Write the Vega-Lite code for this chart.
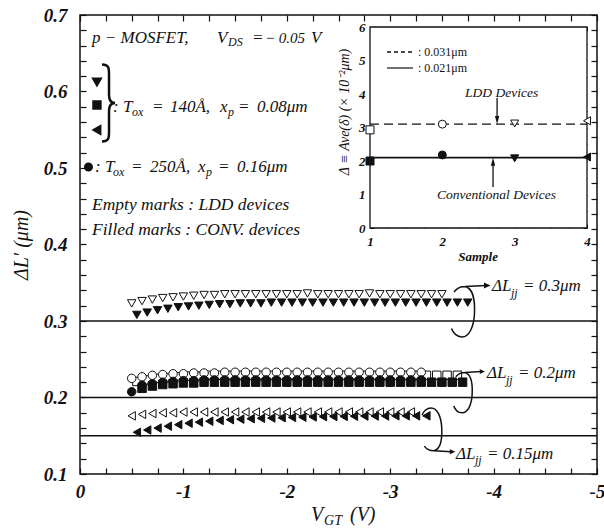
{
  "$schema": "https://vega.github.io/schema/vega-lite/v6.json",
  "width": 517,
  "height": 459,
  "autosize": "none",
  "padding": {"left": 80, "top": 15, "right": 7, "bottom": 57},
  "background": "white",
  "config": {
    "view": {"stroke": "#111", "strokeWidth": 1.5},
    "font": "Liberation Serif",
    "text": {"font": "Liberation Serif", "color": "#111"}
  },
  "data": {"values": [{}]},
  "datasets": {
    "jj": [{"dljj": 0.3}, {"dljj": 0.2}, {"dljj": 0.15}],
    "inset": [
      {"sample": 1, "avg": 2.93, "marker": "square", "device": "LDD"},
      {"sample": 2, "avg": 3.1, "marker": "circle", "device": "LDD"},
      {"sample": 3, "avg": 3.12, "marker": "down", "device": "LDD"},
      {"sample": 4, "avg": 3.2, "marker": "left", "device": "LDD"},
      {"sample": 1, "avg": 2.0, "marker": "square", "device": "CONV"},
      {"sample": 2, "avg": 2.18, "marker": "circle", "device": "CONV"},
      {"sample": 3, "avg": 2.08, "marker": "down", "device": "CONV"},
      {"sample": 4, "avg": 2.12, "marker": "left", "device": "CONV"}
    ],
    "main": [
      {"vgt": -0.5, "dl": 0.323, "marker": "down", "device": "LDD"},
      {"vgt": -0.6, "dl": 0.326, "marker": "down", "device": "LDD"},
      {"vgt": -0.7, "dl": 0.328, "marker": "down", "device": "LDD"},
      {"vgt": -0.8, "dl": 0.330, "marker": "down", "device": "LDD"},
      {"vgt": -0.9, "dl": 0.331, "marker": "down", "device": "LDD"},
      {"vgt": -1.0, "dl": 0.332, "marker": "down", "device": "LDD"},
      {"vgt": -1.1, "dl": 0.333, "marker": "down", "device": "LDD"},
      {"vgt": -1.2, "dl": 0.334, "marker": "down", "device": "LDD"},
      {"vgt": -1.3, "dl": 0.334, "marker": "down", "device": "LDD"},
      {"vgt": -1.4, "dl": 0.335, "marker": "down", "device": "LDD"},
      {"vgt": -1.5, "dl": 0.335, "marker": "down", "device": "LDD"},
      {"vgt": -1.6, "dl": 0.335, "marker": "down", "device": "LDD"},
      {"vgt": -1.7, "dl": 0.335, "marker": "down", "device": "LDD"},
      {"vgt": -1.8, "dl": 0.335, "marker": "down", "device": "LDD"},
      {"vgt": -1.9, "dl": 0.335, "marker": "down", "device": "LDD"},
      {"vgt": -2.0, "dl": 0.335, "marker": "down", "device": "LDD"},
      {"vgt": -2.1, "dl": 0.335, "marker": "down", "device": "LDD"},
      {"vgt": -2.2, "dl": 0.336, "marker": "down", "device": "LDD"},
      {"vgt": -2.3, "dl": 0.335, "marker": "down", "device": "LDD"},
      {"vgt": -2.4, "dl": 0.335, "marker": "down", "device": "LDD"},
      {"vgt": -2.5, "dl": 0.335, "marker": "down", "device": "LDD"},
      {"vgt": -2.6, "dl": 0.335, "marker": "down", "device": "LDD"},
      {"vgt": -2.7, "dl": 0.335, "marker": "down", "device": "LDD"},
      {"vgt": -2.8, "dl": 0.336, "marker": "down", "device": "LDD"},
      {"vgt": -2.9, "dl": 0.335, "marker": "down", "device": "LDD"},
      {"vgt": -3.0, "dl": 0.335, "marker": "down", "device": "LDD"},
      {"vgt": -3.1, "dl": 0.335, "marker": "down", "device": "LDD"},
      {"vgt": -3.2, "dl": 0.335, "marker": "down", "device": "LDD"},
      {"vgt": -3.3, "dl": 0.335, "marker": "down", "device": "LDD"},
      {"vgt": -3.4, "dl": 0.335, "marker": "down", "device": "LDD"},
      {"vgt": -3.5, "dl": 0.335, "marker": "down", "device": "LDD"},

      {"vgt": -0.55, "dl": 0.308, "marker": "down", "device": "CONV"},
      {"vgt": -0.65, "dl": 0.311, "marker": "down", "device": "CONV"},
      {"vgt": -0.75, "dl": 0.314, "marker": "down", "device": "CONV"},
      {"vgt": -0.85, "dl": 0.316, "marker": "down", "device": "CONV"},
      {"vgt": -0.95, "dl": 0.318, "marker": "down", "device": "CONV"},
      {"vgt": -1.05, "dl": 0.319, "marker": "down", "device": "CONV"},
      {"vgt": -1.15, "dl": 0.320, "marker": "down", "device": "CONV"},
      {"vgt": -1.25, "dl": 0.321, "marker": "down", "device": "CONV"},
      {"vgt": -1.35, "dl": 0.322, "marker": "down", "device": "CONV"},
      {"vgt": -1.45, "dl": 0.322, "marker": "down", "device": "CONV"},
      {"vgt": -1.55, "dl": 0.323, "marker": "down", "device": "CONV"},
      {"vgt": -1.65, "dl": 0.323, "marker": "down", "device": "CONV"},
      {"vgt": -1.75, "dl": 0.323, "marker": "down", "device": "CONV"},
      {"vgt": -1.85, "dl": 0.324, "marker": "down", "device": "CONV"},
      {"vgt": -1.95, "dl": 0.324, "marker": "down", "device": "CONV"},
      {"vgt": -2.05, "dl": 0.324, "marker": "down", "device": "CONV"},
      {"vgt": -2.15, "dl": 0.324, "marker": "down", "device": "CONV"},
      {"vgt": -2.25, "dl": 0.324, "marker": "down", "device": "CONV"},
      {"vgt": -2.35, "dl": 0.324, "marker": "down", "device": "CONV"},
      {"vgt": -2.45, "dl": 0.324, "marker": "down", "device": "CONV"},
      {"vgt": -2.55, "dl": 0.324, "marker": "down", "device": "CONV"},
      {"vgt": -2.65, "dl": 0.324, "marker": "down", "device": "CONV"},
      {"vgt": -2.75, "dl": 0.324, "marker": "down", "device": "CONV"},
      {"vgt": -2.85, "dl": 0.324, "marker": "down", "device": "CONV"},
      {"vgt": -2.95, "dl": 0.324, "marker": "down", "device": "CONV"},
      {"vgt": -3.05, "dl": 0.324, "marker": "down", "device": "CONV"},
      {"vgt": -3.15, "dl": 0.324, "marker": "down", "device": "CONV"},
      {"vgt": -3.25, "dl": 0.324, "marker": "down", "device": "CONV"},
      {"vgt": -3.35, "dl": 0.324, "marker": "down", "device": "CONV"},
      {"vgt": -3.45, "dl": 0.324, "marker": "down", "device": "CONV"},
      {"vgt": -3.55, "dl": 0.324, "marker": "down", "device": "CONV"},
      {"vgt": -3.65, "dl": 0.324, "marker": "down", "device": "CONV"},
      {"vgt": -3.75, "dl": 0.324, "marker": "down", "device": "CONV"},

      {"vgt": -0.55, "dl": 0.221, "marker": "square", "device": "LDD"},
      {"vgt": -0.65, "dl": 0.223, "marker": "square", "device": "LDD"},
      {"vgt": -0.75, "dl": 0.225, "marker": "square", "device": "LDD"},
      {"vgt": -0.85, "dl": 0.226, "marker": "square", "device": "LDD"},
      {"vgt": -0.95, "dl": 0.227, "marker": "square", "device": "LDD"},
      {"vgt": -1.05, "dl": 0.228, "marker": "square", "device": "LDD"},
      {"vgt": -1.15, "dl": 0.228, "marker": "square", "device": "LDD"},
      {"vgt": -1.25, "dl": 0.229, "marker": "square", "device": "LDD"},
      {"vgt": -1.35, "dl": 0.229, "marker": "square", "device": "LDD"},
      {"vgt": -1.45, "dl": 0.229, "marker": "square", "device": "LDD"},
      {"vgt": -1.55, "dl": 0.229, "marker": "square", "device": "LDD"},
      {"vgt": -1.65, "dl": 0.229, "marker": "square", "device": "LDD"},
      {"vgt": -1.75, "dl": 0.229, "marker": "square", "device": "LDD"},
      {"vgt": -1.85, "dl": 0.229, "marker": "square", "device": "LDD"},
      {"vgt": -1.95, "dl": 0.229, "marker": "square", "device": "LDD"},
      {"vgt": -2.05, "dl": 0.229, "marker": "square", "device": "LDD"},
      {"vgt": -2.15, "dl": 0.229, "marker": "square", "device": "LDD"},
      {"vgt": -2.25, "dl": 0.229, "marker": "square", "device": "LDD"},
      {"vgt": -2.35, "dl": 0.229, "marker": "square", "device": "LDD"},
      {"vgt": -2.45, "dl": 0.229, "marker": "square", "device": "LDD"},
      {"vgt": -2.55, "dl": 0.229, "marker": "square", "device": "LDD"},
      {"vgt": -2.65, "dl": 0.229, "marker": "square", "device": "LDD"},
      {"vgt": -2.75, "dl": 0.229, "marker": "square", "device": "LDD"},
      {"vgt": -2.85, "dl": 0.229, "marker": "square", "device": "LDD"},
      {"vgt": -2.95, "dl": 0.229, "marker": "square", "device": "LDD"},
      {"vgt": -3.05, "dl": 0.229, "marker": "square", "device": "LDD"},
      {"vgt": -3.15, "dl": 0.229, "marker": "square", "device": "LDD"},
      {"vgt": -3.25, "dl": 0.229, "marker": "square", "device": "LDD"},
      {"vgt": -3.35, "dl": 0.229, "marker": "square", "device": "LDD"},
      {"vgt": -3.45, "dl": 0.229, "marker": "square", "device": "LDD"},
      {"vgt": -3.55, "dl": 0.229, "marker": "square", "device": "LDD"},
      {"vgt": -3.65, "dl": 0.229, "marker": "square", "device": "LDD"},

      {"vgt": -0.5, "dl": 0.225, "marker": "circle", "device": "LDD"},
      {"vgt": -0.6, "dl": 0.227, "marker": "circle", "device": "LDD"},
      {"vgt": -0.7, "dl": 0.229, "marker": "circle", "device": "LDD"},
      {"vgt": -0.8, "dl": 0.230, "marker": "circle", "device": "LDD"},
      {"vgt": -0.9, "dl": 0.231, "marker": "circle", "device": "LDD"},
      {"vgt": -1.0, "dl": 0.231, "marker": "circle", "device": "LDD"},
      {"vgt": -1.1, "dl": 0.232, "marker": "circle", "device": "LDD"},
      {"vgt": -1.2, "dl": 0.232, "marker": "circle", "device": "LDD"},
      {"vgt": -1.3, "dl": 0.232, "marker": "circle", "device": "LDD"},
      {"vgt": -1.4, "dl": 0.233, "marker": "circle", "device": "LDD"},
      {"vgt": -1.5, "dl": 0.233, "marker": "circle", "device": "LDD"},
      {"vgt": -1.6, "dl": 0.233, "marker": "circle", "device": "LDD"},
      {"vgt": -1.7, "dl": 0.233, "marker": "circle", "device": "LDD"},
      {"vgt": -1.8, "dl": 0.233, "marker": "circle", "device": "LDD"},
      {"vgt": -1.9, "dl": 0.233, "marker": "circle", "device": "LDD"},
      {"vgt": -2.0, "dl": 0.233, "marker": "circle", "device": "LDD"},
      {"vgt": -2.1, "dl": 0.233, "marker": "circle", "device": "LDD"},
      {"vgt": -2.2, "dl": 0.233, "marker": "circle", "device": "LDD"},
      {"vgt": -2.3, "dl": 0.233, "marker": "circle", "device": "LDD"},
      {"vgt": -2.4, "dl": 0.233, "marker": "circle", "device": "LDD"},
      {"vgt": -2.5, "dl": 0.233, "marker": "circle", "device": "LDD"},
      {"vgt": -2.6, "dl": 0.233, "marker": "circle", "device": "LDD"},
      {"vgt": -2.7, "dl": 0.233, "marker": "circle", "device": "LDD"},
      {"vgt": -2.8, "dl": 0.233, "marker": "circle", "device": "LDD"},
      {"vgt": -2.9, "dl": 0.233, "marker": "circle", "device": "LDD"},
      {"vgt": -3.0, "dl": 0.233, "marker": "circle", "device": "LDD"},
      {"vgt": -3.1, "dl": 0.233, "marker": "circle", "device": "LDD"},
      {"vgt": -3.2, "dl": 0.233, "marker": "circle", "device": "LDD"},
      {"vgt": -3.3, "dl": 0.233, "marker": "circle", "device": "LDD"},

      {"vgt": -0.6, "dl": 0.212, "marker": "square", "device": "CONV"},
      {"vgt": -0.7, "dl": 0.215, "marker": "square", "device": "CONV"},
      {"vgt": -0.8, "dl": 0.217, "marker": "square", "device": "CONV"},
      {"vgt": -0.9, "dl": 0.218, "marker": "square", "device": "CONV"},
      {"vgt": -1.0, "dl": 0.219, "marker": "square", "device": "CONV"},
      {"vgt": -1.1, "dl": 0.219, "marker": "square", "device": "CONV"},
      {"vgt": -1.2, "dl": 0.220, "marker": "square", "device": "CONV"},
      {"vgt": -1.3, "dl": 0.220, "marker": "square", "device": "CONV"},
      {"vgt": -1.4, "dl": 0.220, "marker": "square", "device": "CONV"},
      {"vgt": -1.5, "dl": 0.220, "marker": "square", "device": "CONV"},
      {"vgt": -1.6, "dl": 0.220, "marker": "square", "device": "CONV"},
      {"vgt": -1.7, "dl": 0.220, "marker": "square", "device": "CONV"},
      {"vgt": -1.8, "dl": 0.220, "marker": "square", "device": "CONV"},
      {"vgt": -1.9, "dl": 0.220, "marker": "square", "device": "CONV"},
      {"vgt": -2.0, "dl": 0.220, "marker": "square", "device": "CONV"},
      {"vgt": -2.1, "dl": 0.220, "marker": "square", "device": "CONV"},
      {"vgt": -2.2, "dl": 0.220, "marker": "square", "device": "CONV"},
      {"vgt": -2.3, "dl": 0.220, "marker": "square", "device": "CONV"},
      {"vgt": -2.4, "dl": 0.220, "marker": "square", "device": "CONV"},
      {"vgt": -2.5, "dl": 0.220, "marker": "square", "device": "CONV"},
      {"vgt": -2.6, "dl": 0.220, "marker": "square", "device": "CONV"},
      {"vgt": -2.7, "dl": 0.220, "marker": "square", "device": "CONV"},
      {"vgt": -2.8, "dl": 0.220, "marker": "square", "device": "CONV"},
      {"vgt": -2.9, "dl": 0.220, "marker": "square", "device": "CONV"},
      {"vgt": -3.0, "dl": 0.220, "marker": "square", "device": "CONV"},
      {"vgt": -3.1, "dl": 0.220, "marker": "square", "device": "CONV"},
      {"vgt": -3.2, "dl": 0.220, "marker": "square", "device": "CONV"},
      {"vgt": -3.3, "dl": 0.220, "marker": "square", "device": "CONV"},
      {"vgt": -3.4, "dl": 0.220, "marker": "square", "device": "CONV"},
      {"vgt": -3.5, "dl": 0.220, "marker": "square", "device": "CONV"},
      {"vgt": -3.6, "dl": 0.220, "marker": "square", "device": "CONV"},
      {"vgt": -3.7, "dl": 0.220, "marker": "square", "device": "CONV"},

      {"vgt": -0.5, "dl": 0.2075, "marker": "circle", "device": "CONV"},
      {"vgt": -0.6, "dl": 0.216, "marker": "circle", "device": "CONV"},
      {"vgt": -0.7, "dl": 0.218, "marker": "circle", "device": "CONV"},
      {"vgt": -0.8, "dl": 0.220, "marker": "circle", "device": "CONV"},
      {"vgt": -0.9, "dl": 0.221, "marker": "circle", "device": "CONV"},
      {"vgt": -1.0, "dl": 0.222, "marker": "circle", "device": "CONV"},
      {"vgt": -1.1, "dl": 0.222, "marker": "circle", "device": "CONV"},
      {"vgt": -1.2, "dl": 0.223, "marker": "circle", "device": "CONV"},
      {"vgt": -1.3, "dl": 0.223, "marker": "circle", "device": "CONV"},
      {"vgt": -1.4, "dl": 0.223, "marker": "circle", "device": "CONV"},
      {"vgt": -1.5, "dl": 0.223, "marker": "circle", "device": "CONV"},
      {"vgt": -1.6, "dl": 0.223, "marker": "circle", "device": "CONV"},
      {"vgt": -1.7, "dl": 0.223, "marker": "circle", "device": "CONV"},
      {"vgt": -1.8, "dl": 0.223, "marker": "circle", "device": "CONV"},
      {"vgt": -1.9, "dl": 0.223, "marker": "circle", "device": "CONV"},
      {"vgt": -2.0, "dl": 0.223, "marker": "circle", "device": "CONV"},
      {"vgt": -2.1, "dl": 0.223, "marker": "circle", "device": "CONV"},
      {"vgt": -2.2, "dl": 0.223, "marker": "circle", "device": "CONV"},
      {"vgt": -2.3, "dl": 0.223, "marker": "circle", "device": "CONV"},
      {"vgt": -2.4, "dl": 0.223, "marker": "circle", "device": "CONV"},
      {"vgt": -2.5, "dl": 0.223, "marker": "circle", "device": "CONV"},
      {"vgt": -2.6, "dl": 0.223, "marker": "circle", "device": "CONV"},
      {"vgt": -2.7, "dl": 0.223, "marker": "circle", "device": "CONV"},
      {"vgt": -2.8, "dl": 0.223, "marker": "circle", "device": "CONV"},
      {"vgt": -2.9, "dl": 0.223, "marker": "circle", "device": "CONV"},
      {"vgt": -3.0, "dl": 0.223, "marker": "circle", "device": "CONV"},
      {"vgt": -3.1, "dl": 0.223, "marker": "circle", "device": "CONV"},
      {"vgt": -3.2, "dl": 0.223, "marker": "circle", "device": "CONV"},
      {"vgt": -3.3, "dl": 0.223, "marker": "circle", "device": "CONV"},

      {"vgt": -0.5, "dl": 0.176, "marker": "left", "device": "LDD"},
      {"vgt": -0.6, "dl": 0.178, "marker": "left", "device": "LDD"},
      {"vgt": -0.7, "dl": 0.179, "marker": "left", "device": "LDD"},
      {"vgt": -0.8, "dl": 0.180, "marker": "left", "device": "LDD"},
      {"vgt": -0.9, "dl": 0.180, "marker": "left", "device": "LDD"},
      {"vgt": -1.0, "dl": 0.181, "marker": "left", "device": "LDD"},
      {"vgt": -1.1, "dl": 0.181, "marker": "left", "device": "LDD"},
      {"vgt": -1.2, "dl": 0.181, "marker": "left", "device": "LDD"},
      {"vgt": -1.3, "dl": 0.181, "marker": "left", "device": "LDD"},
      {"vgt": -1.4, "dl": 0.181, "marker": "left", "device": "LDD"},
      {"vgt": -1.5, "dl": 0.181, "marker": "left", "device": "LDD"},
      {"vgt": -1.6, "dl": 0.181, "marker": "left", "device": "LDD"},
      {"vgt": -1.7, "dl": 0.181, "marker": "left", "device": "LDD"},
      {"vgt": -1.8, "dl": 0.181, "marker": "left", "device": "LDD"},
      {"vgt": -1.9, "dl": 0.181, "marker": "left", "device": "LDD"},
      {"vgt": -2.0, "dl": 0.181, "marker": "left", "device": "LDD"},
      {"vgt": -2.1, "dl": 0.181, "marker": "left", "device": "LDD"},
      {"vgt": -2.2, "dl": 0.181, "marker": "left", "device": "LDD"},
      {"vgt": -2.3, "dl": 0.181, "marker": "left", "device": "LDD"},
      {"vgt": -2.4, "dl": 0.181, "marker": "left", "device": "LDD"},
      {"vgt": -2.5, "dl": 0.181, "marker": "left", "device": "LDD"},
      {"vgt": -2.6, "dl": 0.181, "marker": "left", "device": "LDD"},
      {"vgt": -2.7, "dl": 0.181, "marker": "left", "device": "LDD"},
      {"vgt": -2.8, "dl": 0.181, "marker": "left", "device": "LDD"},
      {"vgt": -2.9, "dl": 0.181, "marker": "left", "device": "LDD"},
      {"vgt": -3.0, "dl": 0.181, "marker": "left", "device": "LDD"},
      {"vgt": -3.1, "dl": 0.181, "marker": "left", "device": "LDD"},
      {"vgt": -3.2, "dl": 0.181, "marker": "left", "device": "LDD"},

      {"vgt": -0.55, "dl": 0.1545, "marker": "left", "device": "CONV"},
      {"vgt": -0.65, "dl": 0.1575, "marker": "left", "device": "CONV"},
      {"vgt": -0.75, "dl": 0.160, "marker": "left", "device": "CONV"},
      {"vgt": -0.85, "dl": 0.1625, "marker": "left", "device": "CONV"},
      {"vgt": -0.95, "dl": 0.1645, "marker": "left", "device": "CONV"},
      {"vgt": -1.05, "dl": 0.1663, "marker": "left", "device": "CONV"},
      {"vgt": -1.15, "dl": 0.1678, "marker": "left", "device": "CONV"},
      {"vgt": -1.25, "dl": 0.169, "marker": "left", "device": "CONV"},
      {"vgt": -1.35, "dl": 0.170, "marker": "left", "device": "CONV"},
      {"vgt": -1.45, "dl": 0.171, "marker": "left", "device": "CONV"},
      {"vgt": -1.55, "dl": 0.1717, "marker": "left", "device": "CONV"},
      {"vgt": -1.65, "dl": 0.1723, "marker": "left", "device": "CONV"},
      {"vgt": -1.75, "dl": 0.1728, "marker": "left", "device": "CONV"},
      {"vgt": -1.85, "dl": 0.1732, "marker": "left", "device": "CONV"},
      {"vgt": -1.95, "dl": 0.1736, "marker": "left", "device": "CONV"},
      {"vgt": -2.05, "dl": 0.174, "marker": "left", "device": "CONV"},
      {"vgt": -2.15, "dl": 0.1743, "marker": "left", "device": "CONV"},
      {"vgt": -2.25, "dl": 0.1746, "marker": "left", "device": "CONV"},
      {"vgt": -2.35, "dl": 0.1749, "marker": "left", "device": "CONV"},
      {"vgt": -2.45, "dl": 0.1751, "marker": "left", "device": "CONV"},
      {"vgt": -2.55, "dl": 0.1753, "marker": "left", "device": "CONV"},
      {"vgt": -2.65, "dl": 0.1755, "marker": "left", "device": "CONV"},
      {"vgt": -2.75, "dl": 0.1757, "marker": "left", "device": "CONV"},
      {"vgt": -2.85, "dl": 0.1758, "marker": "left", "device": "CONV"},
      {"vgt": -2.95, "dl": 0.1759, "marker": "left", "device": "CONV"},
      {"vgt": -3.05, "dl": 0.176, "marker": "left", "device": "CONV"},
      {"vgt": -3.15, "dl": 0.176, "marker": "left", "device": "CONV"},
      {"vgt": -3.25, "dl": 0.176, "marker": "left", "device": "CONV"},
      {"vgt": -3.35, "dl": 0.176, "marker": "left", "device": "CONV"}
    ]
  },
  "layer": [
    {
      "layer": [
        {
          "data": {"name": "jj"},
          "mark": {"type": "rule", "stroke": "#111", "strokeWidth": 1.5},
          "encoding": {"y": {"field": "dljj", "type": "quantitative", "axis": null}}
        },
        {
          "data": {"name": "main"},
          "mark": {"type": "point", "filled": true, "stroke": "#111", "strokeWidth": 1, "size": 72, "opacity": 1},
          "encoding": {
            "x": {
              "field": "vgt", "type": "quantitative",
              "scale": {"domain": [-5, 0], "reverse": true, "nice": false, "zero": false},
              "axis": {
                "orient": "bottom", "title": null, "grid": false, "domain": false,
                "values": [0, -0.25, -0.5, -0.75, -1, -1.25, -1.5, -1.75, -2, -2.25, -2.5, -2.75, -3, -3.25, -3.5, -3.75, -4, -4.25, -4.5, -4.75, -5],
                "labelExpr": "datum.value % 1 == 0 ? '' + datum.value : ''",
                "tickSize": -6, "tickWidth": 1.2, "tickColor": "#111",
                "labelFont": "Liberation Serif", "labelFontSize": 19, "labelFontStyle": "italic", "labelFontWeight": "bold",
                "labelColor": "#111", "labelPadding": 14, "labelFlush": false, "labelOverlap": false
              }
            },
            "y": {
              "field": "dl", "type": "quantitative",
              "scale": {"domain": [0.1, 0.7], "nice": false, "zero": false},
              "axis": {
                "orient": "left", "title": null, "grid": false, "domain": false,
                "values": [0.1, 0.12, 0.14, 0.16, 0.18, 0.2, 0.22, 0.24, 0.26, 0.28, 0.3, 0.32, 0.34, 0.36, 0.38, 0.4, 0.42, 0.44, 0.46, 0.48, 0.5, 0.52, 0.54, 0.56, 0.58, 0.6, 0.62, 0.64, 0.66, 0.68, 0.7],
                "labelExpr": "abs(datum.value * 10 - round(datum.value * 10)) < 0.001 ? format(datum.value, '.1f') : ''",
                "tickSize": -6, "tickWidth": 1.2, "tickColor": "#111",
                "labelFont": "Liberation Serif", "labelFontSize": 19, "labelFontStyle": "italic", "labelFontWeight": "bold",
                "labelColor": "#111", "labelPadding": 19, "labelOverlap": false
              }
            },
            "shape": {
              "field": "marker", "type": "nominal", "legend": null,
              "scale": {"domain": ["down", "square", "circle", "left"], "range": ["triangle-down", "square", "circle", "triangle-left"]}
            },
            "fill": {
              "field": "device", "type": "nominal", "legend": null,
              "scale": {"domain": ["LDD", "CONV"], "range": ["white", "#111"]}
            }
          }
        },
        {
          "mark": {"type": "point", "opacity": 0},
          "encoding": {
            "x": {"datum": -1, "type": "quantitative",
              "axis": {"orient": "top", "title": null, "labels": false, "grid": false, "domain": false, "tickSize": -6, "tickWidth": 1.2, "tickColor": "#111",
                "values": [0, -0.25, -0.5, -0.75, -1, -1.25, -1.5, -1.75, -2, -2.25, -2.5, -2.75, -3, -3.25, -3.5, -3.75, -4, -4.25, -4.5, -4.75, -5]}},
            "y": {"datum": 0.4, "type": "quantitative",
              "axis": {"orient": "right", "title": null, "labels": false, "grid": false, "domain": false, "tickSize": -6, "tickWidth": 1.2, "tickColor": "#111",
                "values": [0.1, 0.12, 0.14, 0.16, 0.18, 0.2, 0.22, 0.24, 0.26, 0.28, 0.3, 0.32, 0.34, 0.36, 0.38, 0.4, 0.42, 0.44, 0.46, 0.48, 0.5, 0.52, 0.54, 0.56, 0.58, 0.6, 0.62, 0.64, 0.66, 0.68, 0.7]}}
          }
        },
        {
          "mark": {"type": "point", "shape": "triangle-down", "filled": true, "fill": "#111", "stroke": "#111", "size": 64, "opacity": 1},
          "encoding": {"x": {"datum": -0.164, "type": "quantitative", "axis": null}, "y": {"datum": 0.6124, "type": "quantitative", "axis": null}}
        },
        {
          "mark": {"type": "point", "shape": "square", "filled": true, "fill": "#111", "stroke": "#111", "size": 55, "opacity": 1},
          "encoding": {"x": {"datum": -0.164, "type": "quantitative", "axis": null}, "y": {"datum": 0.5824, "type": "quantitative", "axis": null}}
        },
        {
          "mark": {"type": "point", "shape": "triangle-left", "filled": true, "fill": "#111", "stroke": "#111", "size": 64, "opacity": 1},
          "encoding": {"x": {"datum": -0.164, "type": "quantitative", "axis": null}, "y": {"datum": 0.5497, "type": "quantitative", "axis": null}}
        },
        {
          "mark": {"type": "point", "shape": "circle", "filled": true, "fill": "#111", "stroke": "#111", "size": 50, "opacity": 1},
          "encoding": {"x": {"datum": -0.082, "type": "quantitative", "axis": null}, "y": {"datum": 0.5013, "type": "quantitative", "axis": null}}
        },
        {
          "mark": {"type": "point", "filled": false, "stroke": "#111", "strokeWidth": 2.5, "size": 400, "opacity": 1,
            "shape": "M -0.6,-3.85 C 0.05,-3.85 0.1,-3.55 0.1,-2.9 L 0.1,-0.8 C 0.1,-0.2 0.35,0 0.7,0 C 0.35,0 0.1,0.2 0.1,0.8 L 0.1,2.9 C 0.1,3.55 0.05,3.85 -0.6,3.85"},
          "encoding": {"x": {"datum": -0.271, "type": "quantitative", "axis": null}, "y": {"datum": 0.585, "type": "quantitative", "axis": null}}
        },

        {"mark": {"type": "text", "text": "p − MOSFET,", "fontSize": 17, "fontStyle": "italic", "align": "left", "baseline": "middle"},
          "encoding": {"x": {"datum": -0.116, "type": "quantitative", "axis": null}, "y": {"datum": 0.670, "type": "quantitative", "axis": null}}},
        {"mark": {"type": "text", "text": "V", "fontSize": 17, "fontStyle": "italic", "align": "left", "baseline": "middle"},
          "encoding": {"x": {"datum": -1.325, "type": "quantitative", "axis": null}, "y": {"datum": 0.670, "type": "quantitative", "axis": null}}},
        {"mark": {"type": "text", "text": "DS", "fontSize": 12, "fontStyle": "italic", "align": "left", "baseline": "middle"},
          "encoding": {"x": {"datum": -1.431, "type": "quantitative", "axis": null}, "y": {"datum": 0.6647, "type": "quantitative", "axis": null}}},
        {"mark": {"type": "text", "text": "=", "fontSize": 17, "fontStyle": "italic", "align": "left", "baseline": "middle"},
          "encoding": {"x": {"datum": -1.663, "type": "quantitative", "axis": null}, "y": {"datum": 0.670, "type": "quantitative", "axis": null}}},
        {"mark": {"type": "text", "text": "− 0.05", "fontSize": 15, "fontStyle": "italic", "align": "left", "baseline": "middle"},
          "encoding": {"x": {"datum": -1.789, "type": "quantitative", "axis": null}, "y": {"datum": 0.670, "type": "quantitative", "axis": null}}},
        {"mark": {"type": "text", "text": "V", "fontSize": 17, "fontStyle": "italic", "align": "left", "baseline": "middle"},
          "encoding": {"x": {"datum": -2.234, "type": "quantitative", "axis": null}, "y": {"datum": 0.670, "type": "quantitative", "axis": null}}},

        {"mark": {"type": "text", "text": ": T", "fontSize": 17, "fontStyle": "italic", "align": "left", "baseline": "middle"},
          "encoding": {"x": {"datum": -0.319, "type": "quantitative", "axis": null}, "y": {"datum": 0.5797, "type": "quantitative", "axis": null}}},
        {"mark": {"type": "text", "text": "ox", "fontSize": 12, "fontStyle": "italic", "align": "left", "baseline": "middle"},
          "encoding": {"x": {"datum": -0.503, "type": "quantitative", "axis": null}, "y": {"datum": 0.5732, "type": "quantitative", "axis": null}}},
        {"mark": {"type": "text", "text": "=", "fontSize": 17, "fontStyle": "italic", "align": "left", "baseline": "middle"},
          "encoding": {"x": {"datum": -0.696, "type": "quantitative", "axis": null}, "y": {"datum": 0.5797, "type": "quantitative", "axis": null}}},
        {"mark": {"type": "text", "text": "140Å,", "fontSize": 17, "fontStyle": "italic", "align": "left", "baseline": "middle"},
          "encoding": {"x": {"datum": -0.87, "type": "quantitative", "axis": null}, "y": {"datum": 0.5797, "type": "quantitative", "axis": null}}},
        {"mark": {"type": "text", "text": "x", "fontSize": 17, "fontStyle": "italic", "align": "left", "baseline": "middle"},
          "encoding": {"x": {"datum": -1.354, "type": "quantitative", "axis": null}, "y": {"datum": 0.5797, "type": "quantitative", "axis": null}}},
        {"mark": {"type": "text", "text": "p", "fontSize": 12, "fontStyle": "italic", "align": "left", "baseline": "middle"},
          "encoding": {"x": {"datum": -1.431, "type": "quantitative", "axis": null}, "y": {"datum": 0.5732, "type": "quantitative", "axis": null}}},
        {"mark": {"type": "text", "text": "=", "fontSize": 17, "fontStyle": "italic", "align": "left", "baseline": "middle"},
          "encoding": {"x": {"datum": -1.528, "type": "quantitative", "axis": null}, "y": {"datum": 0.5797, "type": "quantitative", "axis": null}}},
        {"mark": {"type": "text", "text": "0.08μm", "fontSize": 17, "fontStyle": "italic", "align": "left", "baseline": "middle"},
          "encoding": {"x": {"datum": -1.712, "type": "quantitative", "axis": null}, "y": {"datum": 0.5797, "type": "quantitative", "axis": null}}},

        {"mark": {"type": "text", "text": ": T", "fontSize": 17, "fontStyle": "italic", "align": "left", "baseline": "middle"},
          "encoding": {"x": {"datum": -0.145, "type": "quantitative", "axis": null}, "y": {"datum": 0.5013, "type": "quantitative", "axis": null}}},
        {"mark": {"type": "text", "text": "ox", "fontSize": 12, "fontStyle": "italic", "align": "left", "baseline": "middle"},
          "encoding": {"x": {"datum": -0.319, "type": "quantitative", "axis": null}, "y": {"datum": 0.4948, "type": "quantitative", "axis": null}}},
        {"mark": {"type": "text", "text": "=", "fontSize": 17, "fontStyle": "italic", "align": "left", "baseline": "middle"},
          "encoding": {"x": {"datum": -0.493, "type": "quantitative", "axis": null}, "y": {"datum": 0.5013, "type": "quantitative", "axis": null}}},
        {"mark": {"type": "text", "text": "250Å,", "fontSize": 17, "fontStyle": "italic", "align": "left", "baseline": "middle"},
          "encoding": {"x": {"datum": -0.677, "type": "quantitative", "axis": null}, "y": {"datum": 0.5013, "type": "quantitative", "axis": null}}},
        {"mark": {"type": "text", "text": "x", "fontSize": 17, "fontStyle": "italic", "align": "left", "baseline": "middle"},
          "encoding": {"x": {"datum": -1.141, "type": "quantitative", "axis": null}, "y": {"datum": 0.5013, "type": "quantitative", "axis": null}}},
        {"mark": {"type": "text", "text": "p", "fontSize": 12, "fontStyle": "italic", "align": "left", "baseline": "middle"},
          "encoding": {"x": {"datum": -1.219, "type": "quantitative", "axis": null}, "y": {"datum": 0.4948, "type": "quantitative", "axis": null}}},
        {"mark": {"type": "text", "text": "=", "fontSize": 17, "fontStyle": "italic", "align": "left", "baseline": "middle"},
          "encoding": {"x": {"datum": -1.335, "type": "quantitative", "axis": null}, "y": {"datum": 0.5013, "type": "quantitative", "axis": null}}},
        {"mark": {"type": "text", "text": "0.16μm", "fontSize": 17, "fontStyle": "italic", "align": "left", "baseline": "middle"},
          "encoding": {"x": {"datum": -1.518, "type": "quantitative", "axis": null}, "y": {"datum": 0.5013, "type": "quantitative", "axis": null}}},

        {"mark": {"type": "text", "text": "Empty marks  :  LDD devices", "fontSize": 17.5, "fontStyle": "italic", "align": "left", "baseline": "middle"},
          "encoding": {"x": {"datum": -0.116, "type": "quantitative", "axis": null}, "y": {"datum": 0.4516, "type": "quantitative", "axis": null}}},
        {"mark": {"type": "text", "text": "Filled marks  :  CONV. devices", "fontSize": 17.5, "fontStyle": "italic", "align": "left", "baseline": "middle"},
          "encoding": {"x": {"datum": -0.116, "type": "quantitative", "axis": null}, "y": {"datum": 0.419, "type": "quantitative", "axis": null}}},

        {"mark": {"type": "point", "filled": false, "stroke": "#111", "strokeWidth": 1.5, "size": 400, "opacity": 1,
            "shape": "M -0.9,-1.9 C -0.6,-2.3 -0.3,-2.45 0.2,-2.45 L 2.3,-2.55 M 0.2,-2.45 C 1.0,-2.3 1.2,-1.0 1.15,0.2 C 1.1,1.6 0.6,2.6 -0.1,2.6 C -0.6,2.6 -1.0,2.2 -1.15,1.75"},
          "encoding": {"x": {"datum": -3.704, "type": "quantitative", "axis": null}, "y": {"datum": 0.3131, "type": "quantitative", "axis": null}}},
        {"mark": {"type": "point", "filled": true, "fill": "#111", "strokeWidth": 0, "size": 400, "opacity": 1,
            "shape": "M 2.75,-2.55 L 2.1,-2.85 L 2.1,-2.25 Z"},
          "encoding": {"x": {"datum": -3.704, "type": "quantitative", "axis": null}, "y": {"datum": 0.3131, "type": "quantitative", "axis": null}}},
        {"mark": {"type": "point", "filled": false, "stroke": "#111", "strokeWidth": 1.5, "size": 256, "opacity": 1,
            "shape": "M -0.9,-1.9 C -0.6,-2.3 -0.3,-2.45 0.2,-2.45 L 2.3,-2.55 M 0.2,-2.45 C 1.0,-2.3 1.2,-1.0 1.15,0.2 C 1.1,1.6 0.6,2.6 -0.1,2.6 C -0.6,2.6 -1.0,2.2 -1.15,1.75"},
          "encoding": {"x": {"datum": -3.704, "type": "quantitative", "axis": null}, "y": {"datum": 0.2072, "type": "quantitative", "axis": null}}},
        {"mark": {"type": "point", "filled": true, "fill": "#111", "strokeWidth": 0, "size": 256, "opacity": 1,
            "shape": "M 2.75,-2.55 L 2.1,-2.85 L 2.1,-2.25 Z"},
          "encoding": {"x": {"datum": -3.704, "type": "quantitative", "axis": null}, "y": {"datum": 0.2072, "type": "quantitative", "axis": null}}},
        {"mark": {"type": "point", "filled": false, "stroke": "#111", "strokeWidth": 1.5, "size": 289, "opacity": 1,
            "shape": "M -0.9,1.9 C -0.6,2.3 -0.3,2.45 0.2,2.45 L 2.3,2.55 M 0.2,2.45 C 1.0,2.3 1.2,1.0 1.15,-0.2 C 1.1,-1.6 0.6,-2.6 -0.1,-2.6 C -0.6,-2.6 -1.0,-2.2 -1.15,-1.75"},
          "encoding": {"x": {"datum": -3.404, "type": "quantitative", "axis": null}, "y": {"datum": 0.1575, "type": "quantitative", "axis": null}}},
        {"mark": {"type": "point", "filled": true, "fill": "#111", "strokeWidth": 0, "size": 289, "opacity": 1,
            "shape": "M 2.75,2.55 L 2.1,2.85 L 2.1,2.25 Z"},
          "encoding": {"x": {"datum": -3.404, "type": "quantitative", "axis": null}, "y": {"datum": 0.1575, "type": "quantitative", "axis": null}}},

        {"mark": {"type": "text", "text": "ΔL", "fontSize": 17, "fontStyle": "italic", "align": "left", "baseline": "middle"},
          "encoding": {"x": {"datum": -3.985, "type": "quantitative", "axis": null}, "y": {"datum": 0.3458, "type": "quantitative", "axis": null}}},
        {"mark": {"type": "text", "text": "jj", "fontSize": 12, "fontStyle": "italic", "align": "left", "baseline": "middle"},
          "encoding": {"x": {"datum": -4.168, "type": "quantitative", "axis": null}, "y": {"datum": 0.3366, "type": "quantitative", "axis": null}}},
        {"mark": {"type": "text", "text": "= 0.3μm", "fontSize": 17, "fontStyle": "italic", "align": "left", "baseline": "middle"},
          "encoding": {"x": {"datum": -4.284, "type": "quantitative", "axis": null}, "y": {"datum": 0.3458, "type": "quantitative", "axis": null}}},

        {"mark": {"type": "text", "text": "ΔL", "fontSize": 17, "fontStyle": "italic", "align": "left", "baseline": "middle"},
          "encoding": {"x": {"datum": -3.936, "type": "quantitative", "axis": null}, "y": {"datum": 0.232, "type": "quantitative", "axis": null}}},
        {"mark": {"type": "text", "text": "jj", "fontSize": 12, "fontStyle": "italic", "align": "left", "baseline": "middle"},
          "encoding": {"x": {"datum": -4.12, "type": "quantitative", "axis": null}, "y": {"datum": 0.2229, "type": "quantitative", "axis": null}}},
        {"mark": {"type": "text", "text": "= 0.2μm", "fontSize": 17, "fontStyle": "italic", "align": "left", "baseline": "middle"},
          "encoding": {"x": {"datum": -4.236, "type": "quantitative", "axis": null}, "y": {"datum": 0.232, "type": "quantitative", "axis": null}}},

        {"mark": {"type": "text", "text": "ΔL", "fontSize": 17, "fontStyle": "italic", "align": "left", "baseline": "middle"},
          "encoding": {"x": {"datum": -3.636, "type": "quantitative", "axis": null}, "y": {"datum": 0.1261, "type": "quantitative", "axis": null}}},
        {"mark": {"type": "text", "text": "jj", "fontSize": 12, "fontStyle": "italic", "align": "left", "baseline": "middle"},
          "encoding": {"x": {"datum": -3.82, "type": "quantitative", "axis": null}, "y": {"datum": 0.1183, "type": "quantitative", "axis": null}}},
        {"mark": {"type": "text", "text": "= 0.15μm", "fontSize": 17, "fontStyle": "italic", "align": "left", "baseline": "middle"},
          "encoding": {"x": {"datum": -3.936, "type": "quantitative", "axis": null}, "y": {"datum": 0.1261, "type": "quantitative", "axis": null}}},

        {"mark": {"type": "text", "text": "ΔL′  (μm)", "fontSize": 20, "fontStyle": "italic", "align": "center", "baseline": "middle", "angle": 270},
          "encoding": {"x": {"datum": 0.561, "type": "quantitative", "axis": null}, "y": {"datum": 0.3993, "type": "quantitative", "axis": null}}},
        {"mark": {"type": "text", "text": "V", "fontSize": 20, "fontStyle": "italic", "align": "left", "baseline": "middle"},
          "encoding": {"x": {"datum": -2.234, "type": "quantitative", "axis": null}, "y": {"datum": 0.0464, "type": "quantitative", "axis": null}}},
        {"mark": {"type": "text", "text": "GT", "fontSize": 14, "fontStyle": "italic", "align": "left", "baseline": "middle"},
          "encoding": {"x": {"datum": -2.36, "type": "quantitative", "axis": null}, "y": {"datum": 0.0386, "type": "quantitative", "axis": null}}},
        {"mark": {"type": "text", "text": "(V)", "fontSize": 20, "fontStyle": "italic", "align": "left", "baseline": "middle"},
          "encoding": {"x": {"datum": -2.611, "type": "quantitative", "axis": null}, "y": {"datum": 0.0464, "type": "quantitative", "axis": null}}}
      ],
      "resolve": {"axis": {"x": "independent", "y": "independent"}}
    },
    {
      "layer": [
        {
          "mark": {"type": "rect", "fill": "white", "stroke": "#111", "strokeWidth": 1.3},
          "encoding": {
            "x": {"datum": 1, "type": "quantitative",
              "scale": {"domain": [1, 4], "range": [290, 507], "nice": false, "zero": false},
              "axis": {"orient": "bottom", "offset": -246, "title": null, "grid": false, "domain": false,
                "values": [1, 1.25, 1.5, 1.75, 2, 2.25, 2.5, 2.75, 3, 3.25, 3.5, 3.75, 4],
                "labelExpr": "datum.value % 1 == 0 ? '' + datum.value : ''",
                "tickSize": -4, "tickWidth": 1, "tickColor": "#111",
                "labelFont": "Liberation Serif", "labelFontSize": 13, "labelFontStyle": "italic", "labelFontWeight": "bold",
                "labelColor": "#111", "labelPadding": 11, "labelFlush": false, "labelOverlap": false}},
            "x2": {"datum": 4},
            "y": {"datum": 0, "type": "quantitative",
              "scale": {"domain": [0, 6], "range": [213, 12], "nice": false, "zero": false},
              "axis": {"orient": "left", "offset": -290, "title": null, "grid": false, "domain": false,
                "values": [0, 0.5, 1, 1.5, 2, 2.5, 3, 3.5, 4, 4.5, 5, 5.5, 6],
                "labelExpr": "datum.value % 1 == 0 ? '' + datum.value : ''",
                "tickSize": -4, "tickWidth": 1, "tickColor": "#111",
                "labelFont": "Liberation Serif", "labelFontSize": 13, "labelFontStyle": "italic", "labelFontWeight": "bold",
                "labelColor": "#111", "labelPadding": 9, "labelOverlap": false}},
            "y2": {"datum": 6}
          }
        },
        {
          "mark": {"type": "point", "opacity": 0},
          "encoding": {
            "x": {"datum": 2, "type": "quantitative",
              "axis": {"orient": "top", "offset": -12, "title": null, "labels": false, "grid": false, "domain": false, "tickSize": -4, "tickWidth": 1, "tickColor": "#111",
                "values": [1, 1.25, 1.5, 1.75, 2, 2.25, 2.5, 2.75, 3, 3.25, 3.5, 3.75, 4]}},
            "y": {"datum": 3, "type": "quantitative",
              "axis": {"orient": "right", "offset": -10, "title": null, "labels": false, "grid": false, "domain": false, "tickSize": -4, "tickWidth": 1, "tickColor": "#111",
                "values": [0, 0.5, 1, 1.5, 2, 2.5, 3, 3.5, 4, 4.5, 5, 5.5, 6]}}
          }
        },
        {
          "mark": {"type": "rule", "stroke": "#111", "strokeWidth": 1.3, "strokeDash": [9, 5]},
          "encoding": {"x": {"datum": 1, "type": "quantitative", "axis": null}, "x2": {"datum": 4}, "y": {"datum": 3.1, "type": "quantitative", "axis": null}}
        },
        {
          "mark": {"type": "rule", "stroke": "#111", "strokeWidth": 1.6},
          "encoding": {"x": {"datum": 1, "type": "quantitative", "axis": null}, "x2": {"datum": 4}, "y": {"datum": 2.1, "type": "quantitative", "axis": null}}
        },
        {
          "data": {"name": "inset"},
          "mark": {"type": "point", "filled": true, "stroke": "#111", "strokeWidth": 1, "size": 64, "opacity": 1},
          "encoding": {
            "x": {"field": "sample", "type": "quantitative", "axis": null},
            "y": {"field": "avg", "type": "quantitative", "axis": null},
            "shape": {"field": "marker", "type": "nominal", "legend": null},
            "fill": {"field": "device", "type": "nominal", "legend": null}
          }
        },
        {
          "mark": {"type": "rule", "stroke": "#111", "strokeWidth": 1.3, "strokeDash": [4, 3]},
          "encoding": {"x": {"datum": 1.235, "type": "quantitative", "axis": null}, "x2": {"datum": 1.595}, "y": {"datum": 5.254, "type": "quantitative", "axis": null}}
        },
        {"mark": {"type": "text", "text": ": 0.031μm", "fontSize": 12, "align": "left", "baseline": "middle"},
          "encoding": {"x": {"datum": 1.664, "type": "quantitative", "axis": null}, "y": {"datum": 5.254, "type": "quantitative", "axis": null}}},
        {
          "mark": {"type": "rule", "stroke": "#111", "strokeWidth": 1.2},
          "encoding": {"x": {"datum": 1.235, "type": "quantitative", "axis": null}, "x2": {"datum": 1.595}, "y": {"datum": 4.776, "type": "quantitative", "axis": null}}
        },
        {"mark": {"type": "text", "text": ": 0.021μm", "fontSize": 12, "align": "left", "baseline": "middle"},
          "encoding": {"x": {"datum": 1.664, "type": "quantitative", "axis": null}, "y": {"datum": 4.776, "type": "quantitative", "axis": null}}},
        {"mark": {"type": "text", "text": "LDD   Devices", "fontSize": 13.5, "fontStyle": "italic", "align": "left", "baseline": "middle"},
          "encoding": {"x": {"datum": 2.314, "type": "quantitative", "axis": null}, "y": {"datum": 4.03, "type": "quantitative", "axis": null}}},
        {
          "mark": {"type": "rule", "stroke": "#111", "strokeWidth": 1.3},
          "encoding": {"x": {"datum": 2.757, "type": "quantitative", "axis": null}, "y": {"datum": 3.88, "type": "quantitative", "axis": null}, "y2": {"datum": 3.3}}
        },
        {
          "mark": {"type": "point", "filled": true, "fill": "#111", "strokeWidth": 0, "size": 64, "opacity": 1, "shape": "M -0.55,-1 L 0.55,-1 L 0,1 Z"},
          "encoding": {"x": {"datum": 2.757, "type": "quantitative", "axis": null}, "y": {"datum": 3.224, "type": "quantitative", "axis": null}}
        },
        {"mark": {"type": "text", "text": "Conventional   Devices", "fontSize": 13.5, "fontStyle": "italic", "align": "left", "baseline": "middle"},
          "encoding": {"x": {"datum": 1.927, "type": "quantitative", "axis": null}, "y": {"datum": 0.985, "type": "quantitative", "axis": null}}},
        {
          "mark": {"type": "rule", "stroke": "#111", "strokeWidth": 1.3},
          "encoding": {"x": {"datum": 2.701, "type": "quantitative", "axis": null}, "y": {"datum": 1.224, "type": "quantitative", "axis": null}, "y2": {"datum": 1.9}}
        },
        {
          "mark": {"type": "point", "filled": true, "fill": "#111", "strokeWidth": 0, "size": 64, "opacity": 1, "shape": "M -0.55,1 L 0.55,1 L 0,-1 Z"},
          "encoding": {"x": {"datum": 2.701, "type": "quantitative", "axis": null}, "y": {"datum": 1.98, "type": "quantitative", "axis": null}}
        },
        {"mark": {"type": "text", "text": "Sample", "fontSize": 13, "fontStyle": "italic", "fontWeight": "bold", "align": "center", "baseline": "middle"},
          "encoding": {"x": {"datum": 2.494, "type": "quantitative", "axis": null}, "y": {"datum": -0.866, "type": "quantitative", "axis": null}}},
        {"mark": {"type": "text", "text": "Δ ≡ Ave(δ)  (× 10⁻²μm)", "fontSize": 14, "fontStyle": "italic", "align": "center", "baseline": "middle", "angle": 270},
          "encoding": {"x": {"datum": 0.654, "type": "quantitative", "axis": null}, "y": {"datum": 3.463, "type": "quantitative", "axis": null}}}
      ],
      "resolve": {"axis": {"x": "independent", "y": "independent"}}
    }
  ],
  "resolve": {
    "scale": {"x": "independent", "y": "independent"},
    "axis": {"x": "independent", "y": "independent"}
  }
}
